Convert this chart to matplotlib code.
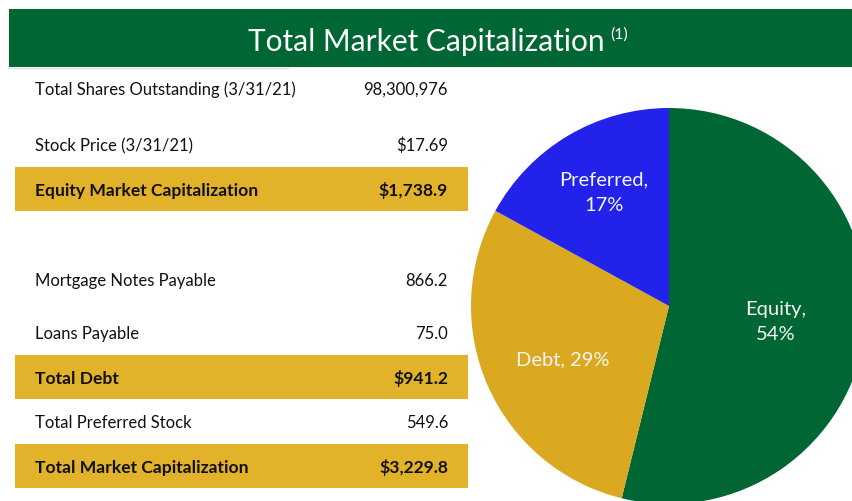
import matplotlib
matplotlib.use("Agg")
import matplotlib.pyplot as plt
from matplotlib.patches import Rectangle

# Capitalization table ($ in millions unless noted)
row_labels = [
    "Total Shares Outstanding (3/31/21)",
    "Stock Price (3/31/21)",
    "Equity Market Capitalization",
    "Mortgage Notes Payable",
    "Loans Payable",
    "Total Debt",
    "Total Preferred Stock",
    "Total Market Capitalization",
]
row_values = ["98,300,976", "$17.69", "$1,738.9", "866.2", "75.0",
              "$941.2", "549.6", "$3,229.8"]
row_highlight = [False, False, True, False, False, True, False, True]

# Pie composition
pie_labels = ["Equity", "Debt", "Preferred"]
pie_values = [1738.9, 941.2, 549.6]

GREEN = "#006633"
GOLD_ROW = "#E2B22B"
GOLD_PIE = "#DAA920"
BLUE = "#2222EA"
FONT = "Lato"

W, H = 853, 502
fig = plt.figure(figsize=(W / 100, H / 100), dpi=100)
fig.patch.set_facecolor("white")

# Layout axis in pixel units, y downward
ax = fig.add_axes([0, 0, 1, 1])
ax.set_xlim(0, W)
ax.set_ylim(H, 0)
ax.axis("off")

# Title banner
ax.add_patch(Rectangle((9, 10), W - 9, 58, facecolor=GREEN, edgecolor="none"))
ax.plot([9, 288], [69, 69], color="#DDDDDD", lw=1)
title = ax.text(248, 42, "Total Market Capitalization", color="white",
                fontsize=21.5, family=FONT, ha="left", va="center")
fig.canvas.draw()
bb = title.get_window_extent()
ax.text(bb.x1 + 6, 35, "(1)", color="white", fontsize=11.5, family=FONT,
        ha="left", va="center")

# Table rows
row_y = [90, 146, 191, 281, 334, 379, 423, 468]
for lab, val, hl, y in zip(row_labels, row_values, row_highlight, row_y):
    if hl:
        ax.add_patch(Rectangle((15, y - 23), 453, 44, facecolor=GOLD_ROW,
                               edgecolor="none"))
    weight = "bold" if hl else "normal"
    size = 12.6 if hl else 12
    ax.text(35, y, lab, fontsize=size, family=FONT, weight=weight,
            color="#111111", ha="left", va="center")
    ax.text(448, y, val, fontsize=size, family=FONT, weight=weight,
            color="#111111", ha="right", va="center")

# Pie in its own pixel-unit axis (y upward)
pax = fig.add_axes([0, 0, 1, 1])
pax.patch.set_alpha(0)
cx, cy, r = 669, H - 307, 198
total = sum(pie_values)
wedges, _ = pax.pie(pie_values, colors=[GREEN, GOLD_PIE, BLUE], startangle=90,
                    counterclock=False, center=(cx, cy), radius=r,
                    wedgeprops=dict(linewidth=0), frame=True)
pax.set_xlim(0, W)
pax.set_ylim(0, H)
pax.set_aspect("auto")
pax.axis("off")

label_pos = [(776, 322), (563, 360), (604, 193)]
label_fmt = ["{name},\n{pct:.0f}%", "{name}, {pct:.0f}%", "{name},\n{pct:.0f}%"]
for name, v, (lx, ly), fmt in zip(pie_labels, pie_values, label_pos, label_fmt):
    pax.text(lx, H - ly, fmt.format(name=name, pct=100 * v / total),
             color="#F4F4F4", fontsize=14.5, family=FONT, ha="center",
             va="center", linespacing=1.6)

fig.savefig("out.png", dpi=100)
